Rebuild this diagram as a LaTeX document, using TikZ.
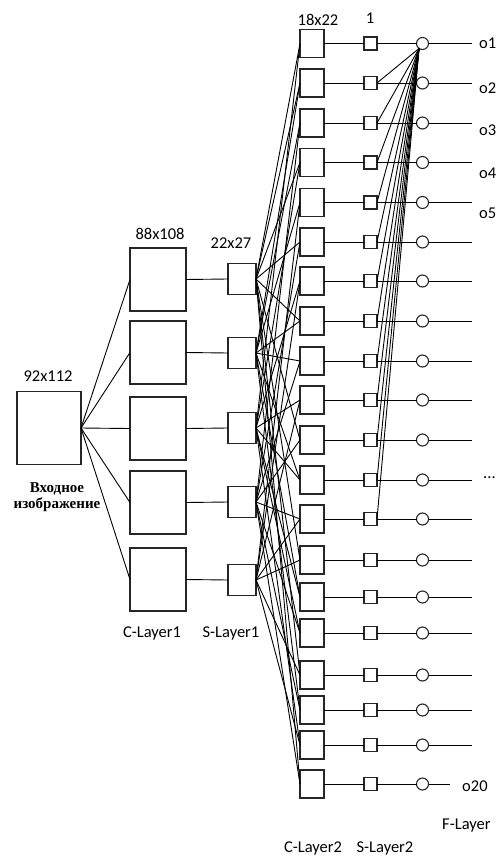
\documentclass[tikz,border=0pt]{standalone}
\usepackage{fontspec}
\setmainfont{Carlito}
\newfontfamily\rusfont{Liberation Serif}
\begin{document}
\begin{tikzpicture}[x=1pt,y=-1pt,
  boxbase/.style={draw=black!85,line width=1.1pt,fill=white,inner sep=0pt,outer sep=0pt,rectangle},
  inbox/.style={boxbase,minimum width=64pt,minimum height=73pt},
  c1box/.style={boxbase,minimum width=56pt,minimum height=63pt},
  s1box/.style={boxbase,minimum width=28pt,minimum height=31pt},
  c2box/.style={boxbase,minimum width=24pt,minimum height=28pt},
  s2box/.style={boxbase,minimum width=13pt,minimum height=13pt},
  fnode/.style={circle,draw=black!85,line width=1.1pt,fill=white,inner sep=0pt,outer sep=0pt,minimum size=12pt},
  conn/.style={draw=black,line width=0.9pt},
  lab/.style={font=\fontsize{16.5}{20}\selectfont,inner sep=0pt,text=black},
  rlab/.style={font=\rusfont\bfseries\fontsize{15}{17}\selectfont,inner sep=0pt,text=black}]
\fill[white] (0,0) rectangle (498,856);
\useasboundingbox (0,0) rectangle (498,856);

% input
\node[inbox] (in) at (49,428) {};
% C-Layer1 and S-Layer1
\foreach \cy/\sy [count=\i] in {279.5/279,352.5/353,428.5/428,502.5/502,579.5/580}{
  \node[c1box] (ca\i) at (158,\cy) {};
  \node[s1box] (sa\i) at (242,\sy) {};
}
% C-Layer2, S-Layer2, F-Layer
\foreach \y [count=\j] in {43.5,83,123,162.5,202.5,242,281,321,361,400,440,480,519,560,597,633,675,710,745,784}{
  \node[c2box] (cb\j) at (312,\y) {};
  \node[s2box] (sb\j) at (370.5,\y) {};
  \node[fnode] (f\j) at (422.5,\y) {};
  \coordinate (e\j) at (472,\y);
}
\coordinate (e20) at (450,784);

% connections input -> C1 -> S1
\foreach \i in {1,...,5}{
  \draw[conn] (in.east) -- (ca\i.west);
  \draw[conn] (ca\i.east) -- (sa\i.west);
}
% S1 -> C2
\foreach \j/\s in {1/1,1/3,2/1,2/2,3/2,3/4,4/1,4/3,5/2,5/5,6/1,6/4,7/3,7/5,8/1,8/2,9/2,9/4,10/3,10/5,
                   11/1,11/4,12/2,12/3,13/4,13/5,14/1,14/5,15/2,15/3,16/3,16/4,17/1,17/5,18/2,18/4,19/3,19/5,20/1,20/4}{
  \draw[conn] (sa\s.east) -- (cb\j.west);
}
% C2 -> S2 -> F -> out
\foreach \j in {1,...,20}{
  \draw[conn] (cb\j.east) -- (sb\j.west);
  \draw[conn] (sb\j.east) -- (f\j.west);
  \draw[conn] (f\j.east) -- (e\j);
}
% fan into first F node
\foreach \j in {2,...,13}{
  \draw[conn] (f1.235) -- (sb\j.east);
}

% labels
\node[lab] (t1) at (48,376) {92x112};
\node[rlab] (t2) at (57,489) {Входное};
\node[rlab] (t3) at (57,505) {изображение};
\node[lab] (t4) at (160,234) {88x108};
\node[lab] (t5) at (231,243) {22x27};
\node[lab] (t6) at (152,633) {C-Layer1};
\node[lab] (t7) at (231,633) {S-Layer1};
\node[lab] (t8) at (318,20) {18x22};
\node[lab] (t9) at (370,18) {1};
\node[lab,anchor=west] (o1) at (479,43) {o1};
\node[lab,anchor=west] (o2) at (479,88) {o2};
\node[lab,anchor=west] (o3) at (479,130) {o3};
\node[lab,anchor=west] (o4) at (479,173) {o4};
\node[lab,anchor=west] (o5) at (479,213) {o5};
\node[lab,anchor=west] (od) at (483,478) {...};
\node[lab,anchor=west] (o20) at (462,786) {o20};
\node[lab,anchor=west] (fl) at (442,826) {F-Layer};
\node[lab] (t10) at (313,848) {C-Layer2};
\node[lab] (t11) at (385,848) {S-Layer2};
\end{tikzpicture}
\end{document}
